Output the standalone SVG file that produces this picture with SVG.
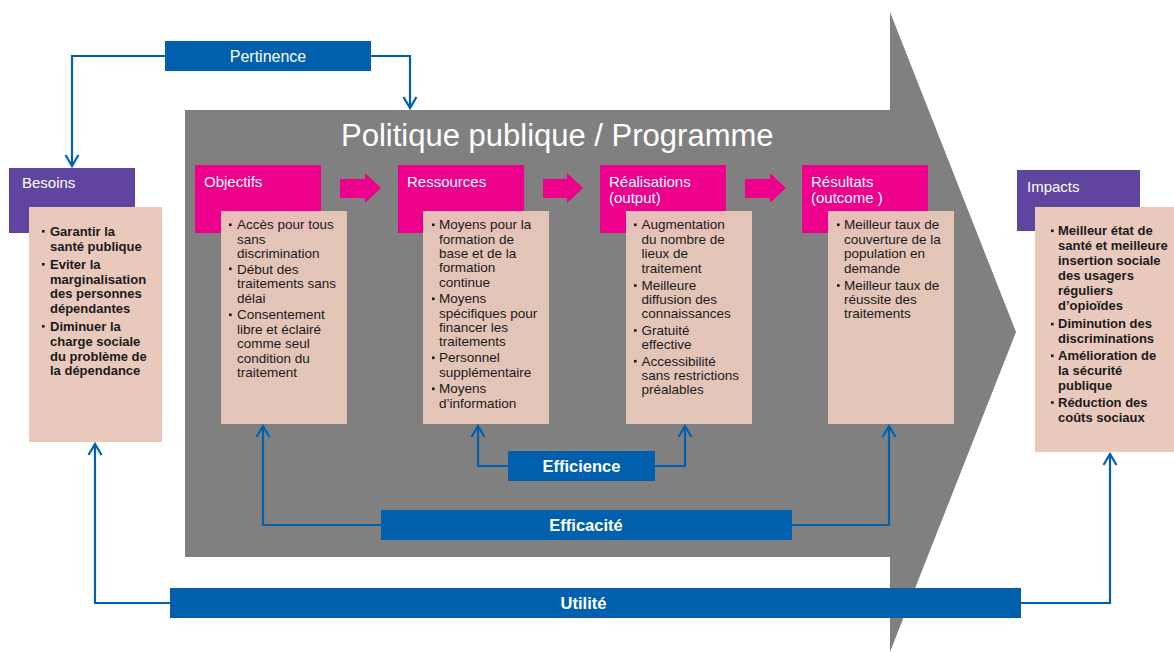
<svg xmlns="http://www.w3.org/2000/svg" width="1174" height="652" viewBox="0 0 1174 652">
<defs>
<style>
.pink{fill:#EC008C}
.purple{fill:#5F45A0}
.beige{fill:#E8C8BB;fill-opacity:0.95}
.blue{fill:#0060AD}
.hd{font-family:"Liberation Sans",Arial,sans-serif;font-size:15px;fill:#fff}
.lbl{font-family:"Liberation Sans",Arial,sans-serif;font-size:16px;fill:#fff;text-anchor:middle}
.lblb{font-family:"Liberation Sans",Arial,sans-serif;font-size:16.5px;font-weight:bold;fill:#fff;text-anchor:middle}
.t{font-family:"Liberation Sans",Arial,sans-serif;font-size:13.5px;fill:#1a1a1a}
.tb{font-family:"Liberation Sans",Arial,sans-serif;font-size:13px;font-weight:bold;fill:#1a1a1a}
.bul{fill:#1a1a1a}
.con{fill:none;stroke:#0060AD;stroke-width:2.2;marker-end:url(#ah)}
</style>
<marker id="ah" markerUnits="userSpaceOnUse" viewBox="-14 -9 16 18" refX="0" refY="0" markerWidth="16" markerHeight="18" orient="auto">
<path d="M-11,-6.5 L0,0 L-11,6.5" fill="none" stroke="#0060AD" stroke-width="2.2"/>
</marker>
</defs>
<rect width="1174" height="652" fill="#fff"/>

<g id="programme">
<polygon points="185,110 890,110 890,12 1016,332 890,652 890,557 185,557" fill="#808080"/>
<text x="341" y="146" font-family="Liberation Sans, Arial, sans-serif" font-size="31" fill="#fff">Politique publique / Programme</text>
</g>

<g id="arrows-flow" class="pink">
<polygon points="340,179 365,179 365,173 381,188 365,203 365,198 340,198"/>
<polygon points="543,179 567,179 567,173 583,188 567,203 567,198 543,198"/>
<polygon points="745,179 770,179 770,173 786,188 770,203 770,198 745,198"/>
</g>

<g id="besoins">
<rect class="purple" x="9" y="168" width="126" height="65"/>
<text class="hd" x="22" y="188">Besoins</text>
<rect x="29" y="207" width="133" height="235" fill="#E9C9BC"/>
<g class="bul"><rect x="42" y="230" width="2.6" height="2.6"/><rect x="42" y="263" width="2.6" height="2.6"/><rect x="42" y="325" width="2.6" height="2.6"/></g>
<text class="tb"><tspan x="50" y="236">Garantir la</tspan><tspan x="50" y="250.7">santé publique</tspan><tspan x="50" y="268.7">Eviter la</tspan><tspan x="50" y="283.5">marginalisation</tspan><tspan x="50" y="298.3">des personnes</tspan><tspan x="50" y="313.3">dépendantes</tspan><tspan x="50" y="330.7">Diminuer la</tspan><tspan x="50" y="345.7">charge sociale</tspan><tspan x="50" y="360.5">du problème de</tspan><tspan x="50" y="375.3">la dépendance</tspan></text>
</g>

<g id="objectifs">
<rect class="pink" x="195" y="165" width="126" height="68"/>
<text class="hd" x="204" y="187">Objectifs</text>
<rect class="beige" x="221" y="211" width="126" height="213"/>
<g class="bul"><rect x="229" y="223.5" width="2.6" height="2.6"/><rect x="229" y="267.5" width="2.6" height="2.6"/><rect x="229" y="313.5" width="2.6" height="2.6"/></g>
<text class="t"><tspan x="237" y="229.3">Accès pour tous</tspan><tspan x="237" y="244">sans</tspan><tspan x="237" y="258">discrimination</tspan><tspan x="237" y="273.5">Début des</tspan><tspan x="237" y="288.3">traitements sans</tspan><tspan x="237" y="302.7">délai</tspan><tspan x="237" y="319.3">Consentement</tspan><tspan x="237" y="334">libre et éclairé</tspan><tspan x="237" y="348.3">comme seul</tspan><tspan x="237" y="362.7">condition du</tspan><tspan x="237" y="377">traitement</tspan></text>
</g>

<g id="ressources">
<rect class="pink" x="398" y="165" width="126" height="68"/>
<text class="hd" x="407" y="187">Ressources</text>
<rect class="beige" x="423" y="211" width="126" height="213"/>
<g class="bul"><rect x="432" y="223.5" width="2.6" height="2.6"/><rect x="432" y="297.5" width="2.6" height="2.6"/><rect x="432" y="356.5" width="2.6" height="2.6"/><rect x="432" y="387.5" width="2.6" height="2.6"/></g>
<text class="t"><tspan x="439" y="229.3">Moyens pour la</tspan><tspan x="439" y="243.5">formation de</tspan><tspan x="439" y="257.7">base et de la</tspan><tspan x="439" y="272.3">formation</tspan><tspan x="439" y="286.7">continue</tspan><tspan x="439" y="303.3">Moyens</tspan><tspan x="439" y="317.7">spécifiques pour</tspan><tspan x="439" y="331.9">financer les</tspan><tspan x="439" y="346">traitements</tspan><tspan x="439" y="362.3">Personnel</tspan><tspan x="439" y="376.7">supplémentaire</tspan><tspan x="439" y="393.3">Moyens</tspan><tspan x="439" y="407.7">d’information</tspan></text>
</g>

<g id="realisations">
<rect class="pink" x="600" y="165" width="126" height="68"/>
<text class="hd"><tspan x="609" y="186.7">Réalisations</tspan><tspan x="609" y="202.7">(output)</tspan></text>
<rect class="beige" x="626" y="211" width="126" height="213"/>
<g class="bul"><rect x="634" y="223.5" width="2.6" height="2.6"/><rect x="634" y="284.2" width="2.6" height="2.6"/><rect x="634" y="329.2" width="2.6" height="2.6"/><rect x="634" y="359.9" width="2.6" height="2.6"/></g>
<text class="t"><tspan x="641.5" y="229.3">Augmentation</tspan><tspan x="641.5" y="244">du nombre de</tspan><tspan x="641.5" y="258.3">lieux de</tspan><tspan x="641.5" y="272.5">traitement</tspan><tspan x="641.5" y="290">Meilleure</tspan><tspan x="641.5" y="304">diffusion des</tspan><tspan x="641.5" y="318">connaissances</tspan><tspan x="641.5" y="335">Gratuité</tspan><tspan x="641.5" y="349">effective</tspan><tspan x="641.5" y="365.7">Accessibilité</tspan><tspan x="641.5" y="380">sans restrictions</tspan><tspan x="641.5" y="394">préalables</tspan></text>
</g>

<g id="resultats">
<rect class="pink" x="802" y="165" width="126" height="68"/>
<text class="hd"><tspan x="811" y="186.7">Résultats</tspan><tspan x="811" y="202.7">(outcome )</tspan></text>
<rect class="beige" x="828" y="211" width="126" height="213"/>
<g class="bul"><rect x="837" y="223.5" width="2.6" height="2.6"/><rect x="837" y="284.2" width="2.6" height="2.6"/></g>
<text class="t"><tspan x="844" y="229.3">Meilleur taux de</tspan><tspan x="844" y="244">couverture de la</tspan><tspan x="844" y="258.3">population en</tspan><tspan x="844" y="272.5">demande</tspan><tspan x="844" y="290">Meilleur taux de</tspan><tspan x="844" y="304">réussite des</tspan><tspan x="844" y="318">traitements</tspan></text>
</g>

<g id="impacts">
<rect class="purple" x="1017" y="170" width="123" height="61"/>
<text class="hd" x="1027" y="192">Impacts</text>
<rect x="1035" y="207" width="139" height="245" fill="#E9C9BC"/>
<g class="bul"><rect x="1051" y="229.5" width="2.6" height="2.6"/><rect x="1051" y="322.8" width="2.6" height="2.6"/><rect x="1051" y="354.5" width="2.6" height="2.6"/><rect x="1051" y="401.2" width="2.6" height="2.6"/></g>
<text class="tb"><tspan x="1058" y="235">Meilleur état de</tspan><tspan x="1058" y="250">santé et meilleure</tspan><tspan x="1058" y="265">insertion sociale</tspan><tspan x="1058" y="280">des usagers</tspan><tspan x="1058" y="295">réguliers</tspan><tspan x="1058" y="310">d’opioïdes</tspan><tspan x="1058" y="328.3">Diminution des</tspan><tspan x="1058" y="343.3">discriminations</tspan><tspan x="1058" y="360">Amélioration de</tspan><tspan x="1058" y="375">la sécurité</tspan><tspan x="1058" y="390">publique</tspan><tspan x="1058" y="406.7">Réduction des</tspan><tspan x="1058" y="421.7">coûts sociaux</tspan></text>
</g>

<g id="connectors">
<path class="con" d="M165,56 H72 V166"/>
<path class="con" d="M371,56 H410 V108"/>
<path class="con" d="M508,466 H478 V426"/>
<path class="con" d="M655,466 H685 V426"/>
<path class="con" d="M381,525 H263 V426"/>
<path class="con" d="M792,525 H889 V426"/>
<path class="con" d="M170,603 H95 V444"/>
<path class="con" d="M1021,603 H1110 V454"/>
</g>

<g id="pertinence">
<rect class="blue" x="165" y="41" width="206" height="30"/>
<text class="lbl" x="268" y="62">Pertinence</text>
</g>
<g id="efficience">
<rect class="blue" x="508" y="451" width="147" height="30"/>
<text class="lblb" x="581.5" y="472">Efficience</text>
</g>
<g id="efficacite">
<rect class="blue" x="381" y="510" width="411" height="30"/>
<text class="lblb" x="586" y="531">Efficacité</text>
</g>
<g id="utilite">
<rect class="blue" x="170" y="588" width="851" height="30"/>
<text class="lblb" x="583.5" y="609">Utilité</text>
</g>
</svg>
